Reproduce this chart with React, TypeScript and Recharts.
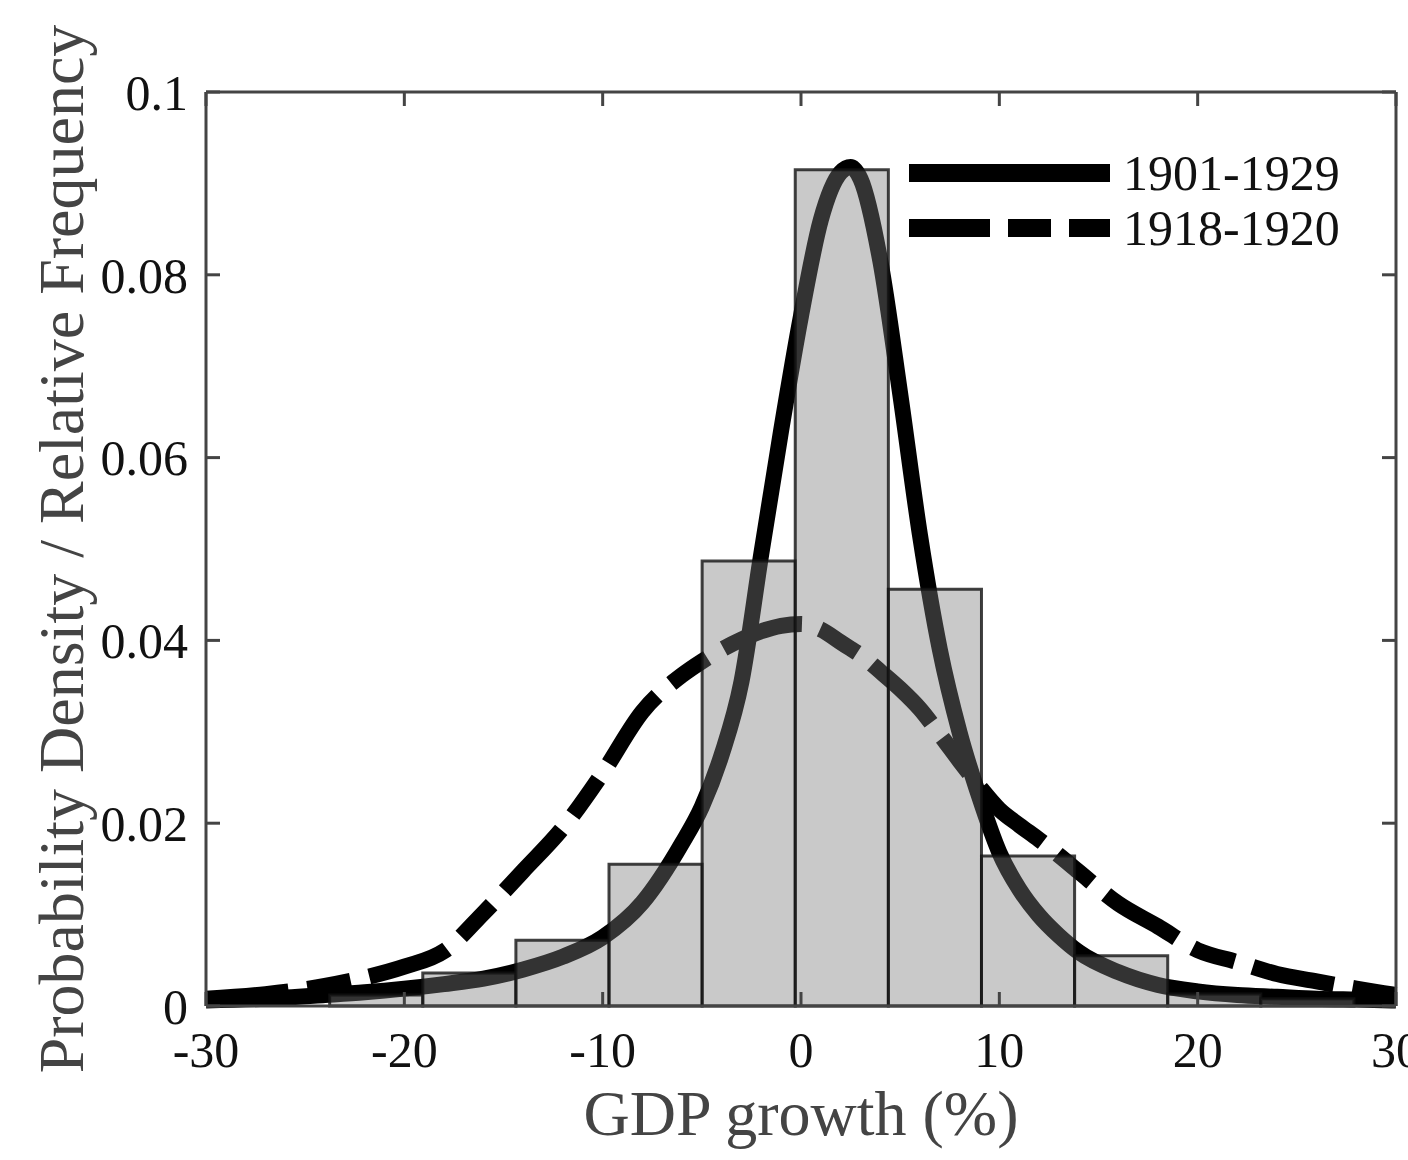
import React from "react";
import {
  ComposedChart, Line, XAxis, YAxis, ReferenceArea, Legend, Label,
} from "recharts";

// curve samples (GDP growth %, density)
const gridX = [-30, -27, -24, -22, -20, -18, -16, -14, -12, -10, -8, -6, -5, -4, -3, -2, -1, 0, 1, 2, 2.5, 3, 4, 5, 6, 7, 8, 9, 10, 11, 12, 13, 14, 16, 18, 20, 22, 24, 26, 28, 30];
const density1901 = [0.0006, 0.0008, 0.0012, 0.0015, 0.0019, 0.0024, 0.003, 0.004, 0.0054, 0.0075, 0.0113, 0.0178, 0.0218, 0.0275, 0.0355, 0.0495, 0.063, 0.0755, 0.086, 0.0912, 0.0918, 0.0905, 0.0815, 0.067, 0.0515, 0.039, 0.0299, 0.0228, 0.0168, 0.0128, 0.0099, 0.0077, 0.0059, 0.0037, 0.0023, 0.0016, 0.0012, 0.001, 0.0008, 0.0007, 0.0006];
const density1918 = [0.0008, 0.0013, 0.0022, 0.0031, 0.0043, 0.006, 0.0102, 0.0148, 0.0195, 0.0255, 0.0322, 0.0362, 0.0377, 0.039, 0.0401, 0.041, 0.0416, 0.0418, 0.0412, 0.0398, 0.0391, 0.0384, 0.0366, 0.0347, 0.0325, 0.0297, 0.0268, 0.024, 0.0215, 0.0198, 0.0182, 0.0165, 0.0147, 0.0112, 0.0087, 0.0061, 0.0048, 0.0035, 0.0027, 0.0019, 0.0012];

// histogram
const binEdges = [-23.765, -19.07, -14.375, -9.68, -4.985, -0.29, 4.405, 9.1, 13.795, 18.49, 23.185, 27.88];
const binHeights = [0.0012, 0.0036, 0.0072, 0.0155, 0.0487, 0.0915, 0.0456, 0.0164, 0.0055, 0.0013, 0.0008];

const xTicks = [-30, -20, -10, 0, 10, 20, 30];
const yTicks = [0, 0.02, 0.04, 0.06, 0.08, 0.1];
const seriesNames = ["1901-1929", "1918-1920"];

const data = gridX.map((x, i) => ({ x, a: density1901[i], b: density1918[i] }));

const FONT = "'Liberation Serif', 'Times New Roman', serif";
const AXIS = "#444";
const tickStyle = { fill: "#111", fontSize: 50, fontFamily: FONT };
const lineDash = "83 19 44 19";

// tick marks only, no label
const NoLabel = () => <g />;

const XLabel = ({ viewBox }: any) => (
  <text
    x={viewBox.x + viewBox.width / 2}
    y={viewBox.y + 129}
    textAnchor="middle"
    fill="#444"
    fontSize={64}
    fontFamily={FONT}
  >
    GDP growth (%)
  </text>
);

const YLabel = ({ viewBox }: any) => {
  const cx = viewBox.x + 83;
  const cy = viewBox.y + viewBox.height / 2;
  return (
    <text
      x={cx}
      y={cy}
      transform={`rotate(-90, ${cx}, ${cy})`}
      textAnchor="middle"
      fill="#444"
      fontSize={64}
      fontFamily={FONT}
    >
      Probability Density / Relative Frequency
    </text>
  );
};

const renderLegend = () => (
  <div style={{ fontFamily: FONT }}>
    {seriesNames.map((name, i) => (
      <div key={name} style={{ display: "flex", alignItems: "center", height: 55 }}>
        <svg width={201} height={24}>
          <line
            x1={0} y1={12} x2={201} y2={12}
            stroke="#000" strokeWidth={18}
            strokeDasharray={i === 1 ? "81 18 43 18" : undefined}
          />
        </svg>
        <span style={{ marginLeft: 13, fontSize: 50, lineHeight: 1, color: "#111" }}>{name}</span>
      </div>
    ))}
  </div>
);

export default function App() {
  return (
    <div style={{ position: "absolute", left: 0, top: 0, width: 1408, height: 1160, overflow: "hidden", background: "#fff" }}>
      <ComposedChart
        width={1408}
        height={1160}
        data={data}
        margin={{ top: 91, right: 11, bottom: 0, left: 0 }}
      >
        <XAxis
          dataKey="x"
          type="number"
          domain={[-30, 30]}
          ticks={xTicks}
          interval={0}
          height={154}
          tickSize={-14}
          tickMargin={39}
          tick={tickStyle}
          axisLine={{ stroke: AXIS, strokeWidth: 3 }}
          tickLine={{ stroke: AXIS, strokeWidth: 3 }}
        >
          <Label content={<XLabel />} />
        </XAxis>
        <XAxis
          xAxisId="top"
          orientation="top"
          dataKey="x"
          type="number"
          domain={[-30, 30]}
          ticks={xTicks}
          tickCount={xTicks.length}
          interval={0}
          height={1}
          tickSize={-14}
          tick={NoLabel}
          axisLine={{ stroke: AXIS, strokeWidth: 3 }}
          tickLine={{ stroke: AXIS, strokeWidth: 3 }}
        />
        <YAxis
          type="number"
          domain={[0, 0.1]}
          ticks={yTicks}
          interval={0}
          width={206}
          tickSize={-14}
          tickMargin={32}
          tick={tickStyle}
          tickFormatter={(v) => String(v)}
          axisLine={{ stroke: AXIS, strokeWidth: 3 }}
          tickLine={{ stroke: AXIS, strokeWidth: 3 }}
        >
          <Label content={<YLabel />} />
        </YAxis>
        <YAxis
          yAxisId="right"
          orientation="right"
          dataKey="a"
          type="number"
          domain={[0, 0.1]}
          ticks={yTicks}
          tickCount={yTicks.length}
          interval={0}
          width={1}
          tickSize={-14}
          tick={NoLabel}
          axisLine={{ stroke: AXIS, strokeWidth: 3 }}
          tickLine={{ stroke: AXIS, strokeWidth: 3 }}
        />
        <Line
          dataKey="a"
          type="monotone"
          stroke="#000"
          strokeWidth={16}
          dot={false}
          activeDot={false}
          isAnimationActive={false}
        />
        <Line
          dataKey="b"
          type="monotone"
          stroke="#000"
          strokeWidth={16}
          strokeDasharray={lineDash}
          dot={false}
          activeDot={false}
          isAnimationActive={false}
        />
        {binHeights.map((h, i) => (
          <ReferenceArea
            key={i}
            x1={binEdges[i]}
            x2={binEdges[i + 1]}
            y1={0}
            y2={h}
            fill="#7c7c7c"
            fillOpacity={0.41}
            stroke="#111"
            strokeOpacity={0.8}
            strokeWidth={3}
            zIndex={450}
          />
        ))}
        <Legend
          content={renderLegend}
          layout="vertical"
          align="center"
          verticalAlign="middle"
          wrapperStyle={{ left: 909, top: 145, width: 460, height: 110 }}
        />
      </ComposedChart>
    </div>
  );
}
